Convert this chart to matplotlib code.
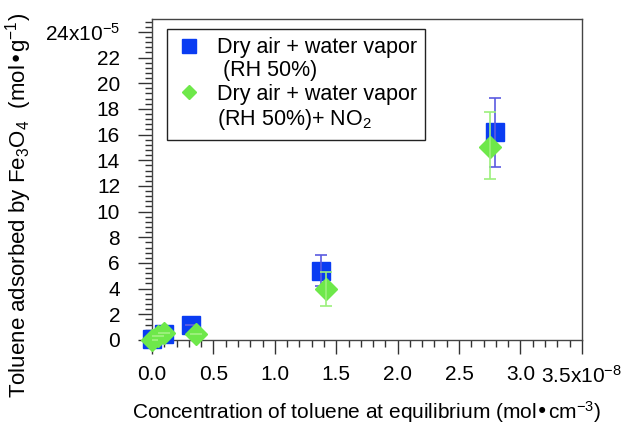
import matplotlib
matplotlib.use("Agg")
import matplotlib.pyplot as plt
from matplotlib.lines import Line2D
from matplotlib.ticker import MultipleLocator, FuncFormatter

plt.rcParams["font.family"] = ["Liberation Sans", "DejaVu Sans"]
plt.rcParams["mathtext.default"] = "regular"

# concentration in 1e-8 mol/cm3, adsorbed amount in 1e-5 mol/g
humid_x = [0.0, 0.1, 0.32, 1.375, 2.79]
humid_y = [0.1, 0.45, 1.2, 5.4, 16.2]
humid_err_lo = [0, 0, 0, 1.2, 2.7]
humid_err_hi = [0, 0, 0, 1.2, 2.65]

no2_x = [0.0, 0.05, 0.1, 0.36, 1.42, 2.75]
no2_y = [0.0, 0.3, 0.55, 0.45, 4.0, 15.0]
no2_err_lo = [0, 0, 0, 0, 1.35, 2.5]
no2_err_hi = [0, 0, 0, 0, 1.3, 2.75]

legend_lines = [
    "Dry air + water vapor",
    " (RH 50%)",
    "Dry air + water vapor",
    "(RH 50%)+ NO$_2$",
]

BLUE = "#0a3cf2"
BLUE_ERR = "#5b5be0"
GREEN = "#6ee84a"
GREEN_ERR = "#9cf07c"
FS = 15

fig = plt.figure(figsize=(6.23, 4.26), dpi=100)
ax = fig.add_axes([0.244, 0.2019, 0.690, 0.7535])

ax.plot(humid_x, humid_y, "s", color=BLUE, ms=12.5, clip_on=False, zorder=3)
ax.errorbar(humid_x, humid_y, yerr=[humid_err_lo, humid_err_hi], fmt="none",
            ecolor=BLUE_ERR, elinewidth=1.2, capsize=4, capthick=1.2, zorder=4)
ax.plot(no2_x, no2_y, "D", color=GREEN, ms=11, clip_on=False, zorder=5)
ax.errorbar(no2_x, no2_y, yerr=[no2_err_lo, no2_err_hi], fmt="none",
            ecolor=GREEN_ERR, elinewidth=1.2, capsize=4, capthick=1.2, zorder=6)

ax.set_xlim(0, 3.5)
ax.set_ylim(0, 25)
ax.xaxis.set_major_locator(MultipleLocator(0.5))
ax.xaxis.set_minor_locator(MultipleLocator(0.1))
ax.yaxis.set_major_locator(MultipleLocator(2))
ax.yaxis.set_minor_locator(MultipleLocator(0.4))


def xfmt(v, pos):
    if abs(v - 3.5) < 1e-6:
        return "3.5x10$^{-8}$"
    return f"{v:.1f}"


def yfmt(v, pos):
    if abs(v - 24) < 1e-6:
        return "24x10$^{-5}$"
    return f"{v:.0f}"


ax.xaxis.set_major_formatter(FuncFormatter(xfmt))
ax.yaxis.set_major_formatter(FuncFormatter(yfmt))
ax.tick_params(which="both", direction="out", width=1, color="#333333",
               labelsize=FS)
ax.tick_params(which="major", length=10, pad=8)
ax.tick_params(which="minor", length=5)
ax.tick_params(axis="y", which="major", pad=13)
for s in ax.spines.values():
    s.set_color("#444444")
    s.set_linewidth(1)

ax.set_xlabel("Concentration of toluene at equilibrium (mol•cm$^{-3}$)", fontsize=FS)
ax.xaxis.set_label_coords(0.5, -0.185)
ax.set_ylabel("Toluene adsorbed by Fe$_3$O$_4$  (mol•g$^{-1}$)", fontsize=16)
ax.yaxis.set_label_coords(-0.275, 0.42)

blank = Line2D([], [], linestyle="none")
handles = [
    Line2D([], [], marker="s", color=BLUE, linestyle="none", ms=10),
    blank,
    Line2D([], [], marker="D", color=GREEN, linestyle="none", ms=7),
    blank,
]
leg = ax.legend(handles, legend_lines, loc="upper left",
                bbox_to_anchor=(0.035, 0.97), fontsize=15.5, frameon=True,
                fancybox=False, edgecolor="#222222", framealpha=1,
                labelspacing=0.1, handlelength=1.2, handletextpad=0.7,
                borderpad=0.4, borderaxespad=0)
leg.get_frame().set_linewidth(1)

fig.savefig("out.png", dpi=100)
